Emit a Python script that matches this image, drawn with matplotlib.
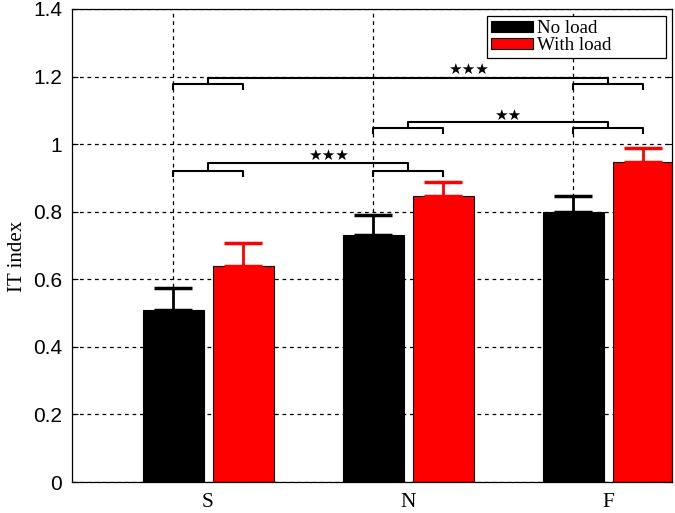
import matplotlib
matplotlib.use('Agg')
import matplotlib.pyplot as plt
import numpy as np

# data
groups = ['S', 'N', 'F']
no_load = [0.51, 0.73, 0.80]
no_load_err = [0.065, 0.06, 0.047]
with_load = [0.64, 0.846, 0.947]
with_load_err = [0.068, 0.042, 0.041]
y_ticks = [0, 0.2, 0.4, 0.6, 0.8, 1.0, 1.2, 1.4]
y_tick_labels = ['0', '0.2', '0.4', '0.6', '0.8', '1', '1.2', '1.4']

# significance brackets: (group a, group b, pair height, link height, stars, star shift, star height)
sig = [(0, 2, 1.178, 1.197, '★★★', 0.3, 1.222),
       (1, 2, 1.048, 1.065, '★★', 0.0, 1.086),
       (0, 1, 0.920, 0.944, '★★★', 0.1, 0.966)]

serif = ['Liberation Serif', 'DejaVu Serif']
sans = ['Liberation Sans', 'DejaVu Sans']

fig = plt.figure(figsize=(6.75, 5.13), dpi=100)
ax = fig.add_axes([0.1067, 0.0604, 0.8889, 0.9221])

x = np.arange(1, len(groups) + 1)
off = 0.175
w = 0.305

ax.bar(x - off, no_load, w, color='black', edgecolor='black', lw=0.8, zorder=2, label='No load')
ax.bar(x + off, with_load, w, color='red', edgecolor='black', lw=0.8, zorder=2, label='With load')
ax.errorbar(x - off, no_load, yerr=[np.zeros(3), no_load_err], fmt='none',
            ecolor='black', elinewidth=2, capsize=14, capthick=2.5, zorder=3)
ax.errorbar(x + off, with_load, yerr=[np.zeros(3), with_load_err], fmt='none',
            ecolor='red', elinewidth=2, capsize=14, capthick=2.5, zorder=3)

# brackets
tick = 0.014
for a, b, h, top, stars, dx, sy in sig:
    mids = []
    for g in (a, b):
        xl, xr = x[g] - off, x[g] + off
        ax.plot([xl, xl, xr, xr], [h - tick, h, h, h - tick], color='black', lw=1.5, zorder=4)
        mids.append(x[g])
    ax.plot([mids[0], mids[0], mids[1], mids[1]], [h, top, top, h], color='black', lw=1.5, zorder=4)
    ax.text((mids[0] + mids[1]) / 2 + dx, sy, stars, ha='center', va='center',
            fontsize=11, family=['DejaVu Sans'], zorder=5)

ax.set_xlim(0.32, 3.32)
ax.set_ylim(0, 1.4)
ax.set_yticks(y_ticks)
ax.set_yticklabels(y_tick_labels, family=sans, fontsize=15)
ax.set_xticks(x)
ax.set_xticklabels(groups, family=serif, fontsize=15.5)
ax.set_xticks(x - off, minor=True)
ax.tick_params(axis='x', which='both', length=0, pad=8)
ax.tick_params(axis='y', direction='in', right=True, length=4, pad=7)
ax.set_ylabel('IT index', family=serif, fontsize=15)
ax.yaxis.set_label_coords(-0.075, 0.476)

ax.grid(True, which='minor', axis='x', color='black', ls=(0, (3, 3)), lw=0.9, zorder=0)
ax.grid(True, which='major', axis='y', color='black', ls=(0, (3, 3)), lw=0.9, zorder=0)
ax.set_axisbelow(True)
for s in ax.spines.values():
    s.set_linewidth(0.9)

leg = ax.legend(loc='upper left', bbox_to_anchor=(0.6917, 0.896, 0.298, 0.089), mode='expand',
                prop={'family': serif, 'size': 13.7}, frameon=True,
                fancybox=False, edgecolor='black', framealpha=1, handlelength=2.2,
                handleheight=0.5, handletextpad=0.2, borderpad=0.2, labelspacing=0.0,
                borderaxespad=0)
leg.get_frame().set_linewidth(0.9)

fig.savefig('out.png', dpi=100)
